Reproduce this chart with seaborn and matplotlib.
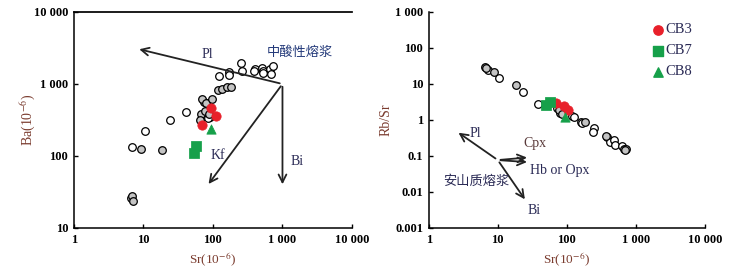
import matplotlib
matplotlib.use("Agg")
import matplotlib.pyplot as plt
import seaborn as sns
import pandas as pd
from matplotlib.ticker import FixedLocator, FixedFormatter

# ---- data ----
# left panel: Sr vs Ba
ba_open_sr = [6.8, 10.7, 24, 41, 254, 261, 398, 393, 507, 520, 520, 652, 680, 730, 168, 168, 123, 75, 85, 92, 84, 6.6]
ba_open_ba = [135, 220, 313, 412, 1970, 1500, 1630, 1530, 1670, 1500, 1410, 1600, 1380, 1780, 1470, 1350, 1290, 570, 545, 350, 340, 26]
ba_grey_sr = [9.2, 18.8, 120, 135, 159, 181, 69.5, 80, 98.7, 68, 76, 88, 66, 6.8, 7.2]
ba_grey_ba = [126, 121, 826, 861, 900, 918, 612, 550, 612, 380, 420, 380, 320, 28, 24]
cb3_sr = [94, 110, 70]
cb3_ba = [469, 359, 272]
cb7_sr = [57.5, 53.8]
cb7_ba = [138, 109]
cb8_sr = [95]
cb8_ba = [235]

# right panel: Sr vs Rb/Sr
rb_open_sr = [7.2, 10.3, 22.8, 38.4, 72, 80, 119, 128, 159, 166, 245, 238, 380, 427, 481, 504, 628, 664, 710]
rb_open_rs = [25, 15, 6.1, 2.8, 2.1, 1.6, 1.29, 1.2, 0.9, 0.83, 0.59, 0.47, 0.33, 0.25, 0.28, 0.2, 0.19, 0.156, 0.16]
rb_grey_sr = [6.5, 6.8, 8.8, 18.1, 76, 85, 181, 373, 700]
rb_grey_rs = [30, 27, 21, 9.4, 1.9, 1.45, 0.88, 0.36, 0.15]
rb_cb3_sr = [69, 90, 104]
rb_cb3_rs = [2.9, 2.5, 1.9]
rb_cb7_sr = [50.7, 56.6]
rb_cb7_rs = [2.6, 3.2]
rb_cb8_sr = [93]
rb_cb8_rs = [1.19]

x_ticks = [1, 10, 100, 1000, 10000]
x_labels = ["1", "10", "100", "1 000", "10 000"]
ba_ticks = [10, 100, 1000, 10000]
ba_labels = ["10", "100", "1 000", "10 000"]
rs_ticks = [0.001, 0.01, 0.1, 1, 10, 100, 1000]
rs_labels = ["0.001", "0.01", "0.1", "1", "10", "100", "1 000"]
legend_labels = ["CB3", "CB7", "CB8"]

RED = "#e8202a"
GREEN = "#16a04a"
GREY = "#c4c4c4"
TXT = "#2a2a55"
BROWN = "#7a3b2e"
SERIF = ["Liberation Serif", "DejaVu Serif"]
CJK = ["Noto Sans CJK SC", "DejaVu Sans"]

sns.set_theme(style="white")
plt.rcParams["font.family"] = SERIF
plt.rcParams["mathtext.fontset"] = "stix"

fig = plt.figure(figsize=(7.47, 2.70), dpi=100)
ax1 = fig.add_axes([0.0987, 0.1556, 0.3726, 0.80])
ax2 = fig.add_axes([0.5739, 0.1556, 0.3699, 0.80])


def scatter(ax, x, y, **kw):
    df = pd.DataFrame({"x": x, "y": y})
    sns.scatterplot(data=df, x="x", y="y", ax=ax, legend=False, **kw)


open_kw = dict(marker="o", s=30, facecolor="white", edgecolor="black", linewidth=0.9, zorder=3)
grey_kw = dict(marker="o", s=30, facecolor=GREY, edgecolor="black", linewidth=0.9, zorder=3)
cb3_kw = dict(marker="o", s=45, color=RED, edgecolor=RED, zorder=4)
cb7_kw = dict(marker="s", s=45, color=GREEN, edgecolor=GREEN, zorder=4)
cb8_kw = dict(marker="^", s=45, color=GREEN, edgecolor=GREEN, zorder=4)

scatter(ax1, ba_open_sr, ba_open_ba, **open_kw)
scatter(ax1, ba_grey_sr, ba_grey_ba, **grey_kw)
scatter(ax1, cb3_sr, cb3_ba, **cb3_kw)
scatter(ax1, cb7_sr, cb7_ba, **cb7_kw)
scatter(ax1, cb8_sr, cb8_ba, **cb8_kw)

scatter(ax2, rb_open_sr, rb_open_rs, **open_kw)
scatter(ax2, rb_grey_sr, rb_grey_rs, **grey_kw)
scatter(ax2, rb_cb3_sr, rb_cb3_rs, **cb3_kw)
scatter(ax2, rb_cb7_sr, rb_cb7_rs, **cb7_kw)
scatter(ax2, rb_cb8_sr, rb_cb8_rs, **cb8_kw)

arrow = dict(arrowstyle="->", color="#222222", lw=1.3, mutation_scale=14)

# left panel vectors
for end in [(8, 3100), (82, 38), (1000, 37)]:
    ax1.annotate("", xy=end, xytext=(1000, 1000), arrowprops=arrow)
ax1.text(84, 2580, "Pl", color=TXT, fontsize=10, ha="center", va="center")
ax1.text(116, 103, "Kf", color=TXT, fontsize=10, ha="center", va="center")
ax1.text(1620, 83, "Bi", color=TXT, fontsize=10, ha="center", va="center")
ax1.text(1800, 2720, "中酸性熔浆", color="#243a7a", fontsize=9.5, ha="center", va="center",
         family=CJK)

# right panel vectors
for end in [(2.5, 0.49), (29, 0.092), (29, 0.067), (26, 0.0054)]:
    ax2.annotate("", xy=end, xytext=(10, 0.077), arrowprops=arrow)
ax2.text(4.7, 0.43, "Pl", color=TXT, fontsize=10, ha="center", va="center")
ax2.text(34, 0.216, "Cpx", color="#5a3a3a", fontsize=10, ha="center", va="center")
ax2.text(79, 0.039, "Hb or Opx", color=TXT, fontsize=10, ha="center", va="center")
ax2.text(34, 0.003, "Bi", color=TXT, fontsize=10, ha="center", va="center")
ax2.text(4.8, 0.020, "安山质熔浆", color=TXT, fontsize=9.5, ha="center", va="center",
         family=CJK)

# legend: markers + labels placed in axes space, no frame
for i, (lab, kw) in enumerate(zip(legend_labels, [cb3_kw, cb7_kw, cb8_kw])):
    yy = 0.917 - i * 0.097
    ax2.scatter([0.831], [yy], transform=ax2.transAxes, marker=kw["marker"], s=45,
                color=kw["color"], zorder=5)
    ax2.text(0.858, yy, lab, transform=ax2.transAxes, fontsize=10.5, color=TXT,
             va="center", ha="left")

for ax, yt, yl, ylab in [(ax1, ba_ticks, ba_labels, "Ba(10$^{-6}$)"),
                         (ax2, rs_ticks, rs_labels, "Rb/Sr")]:
    ax.set_xscale("log")
    ax.set_yscale("log")
    ax.set_xlim(1, 10000)
    ax.set_ylim(yt[0], yt[-1])
    ax.xaxis.set_major_locator(FixedLocator(x_ticks))
    ax.xaxis.set_major_formatter(FixedFormatter(x_labels))
    ax.yaxis.set_major_locator(FixedLocator(yt))
    ax.yaxis.set_major_formatter(FixedFormatter(yl))
    ax.minorticks_off()
    ax.tick_params(direction="in", length=3, width=1, labelsize=9, colors="black", pad=4,
                   bottom=True, left=True)
    for lbl in ax.get_xticklabels() + ax.get_yticklabels():
        lbl.set_fontweight("bold")
    for side in ["left", "bottom"]:
        ax.spines[side].set_color("black")
        ax.spines[side].set_linewidth(1.1)
    for side in ["top", "right"]:
        ax.spines[side].set_visible(False)
    ax.set_xlabel("Sr(10$^{-6}$)", color=BROWN, fontsize=9.5, labelpad=4)
    ax.set_ylabel(ylab, color=BROWN, fontsize=10)
    ax.yaxis.set_label_coords(-0.13, 0.5)

ax1.spines["top"].set_visible(True)
ax1.spines["top"].set_color("black")

fig.savefig("out.png", dpi=100)
